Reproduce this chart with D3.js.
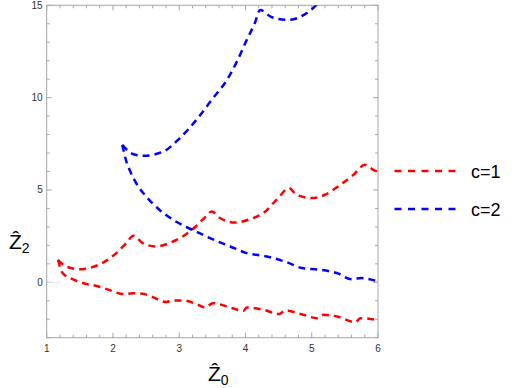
<!DOCTYPE html>
<html><head><meta charset="utf-8">
<script src="https://cdn.jsdelivr.net/npm/d3@7"></script>
<style>body{margin:0;background:#fff;} svg{display:block;}</style>
</head><body>
<script>
// Data (x = Z0, y = Z2)
const redUpper = [[1.17,1.22],[1.29,0.86],[1.49,0.71],[1.64,0.77],[1.85,1.07],[2.05,1.58],[2.20,2.12],[2.31,2.52],[2.45,2.12],[2.65,1.94],[2.85,2.12],[3.05,2.48],[3.25,3.02],[3.40,3.56],[3.49,3.83],[3.62,3.47],[3.84,3.24],[4.07,3.42],[4.27,3.75],[4.47,4.47],[4.66,5.10],[4.77,4.74],[5.00,4.56],[5.20,4.74],[5.43,5.28],[5.63,5.82],[5.80,6.36],[5.93,6.09],[6.00,5.98]];
const redLower = [[1.17,1.22],[1.24,0.50],[1.39,0.17],[1.54,-0.04],[1.74,-0.19],[1.94,-0.41],[2.16,-0.64],[2.30,-0.59],[2.45,-0.62],[2.60,-0.80],[2.80,-1.07],[2.90,-0.98],[3.05,-0.98],[3.25,-1.16],[3.39,-1.36],[3.51,-1.13],[3.72,-1.31],[3.97,-1.54],[4.02,-1.36],[4.27,-1.49],[4.51,-1.72],[4.60,-1.53],[4.87,-1.76],[5.08,-1.94],[5.17,-1.76],[5.38,-1.85],[5.66,-2.16],[5.73,-1.94],[5.97,-2.03],[6.00,-2.05]];
const blueUpper = [[2.14,7.44],[2.30,6.95],[2.46,6.85],[2.76,7.08],[3.01,7.81],[3.26,8.80],[3.51,9.97],[3.72,10.96],[3.87,11.95],[4.02,13.13],[4.14,14.03],[4.22,14.75],[4.40,14.35],[4.65,14.21],[4.92,14.57],[5.07,15.02],[5.20,15.6]];
const blueLower = [[2.14,7.44],[2.21,6.45],[2.25,6.09],[2.35,5.37],[2.50,4.65],[2.70,3.93],[2.95,3.29],[3.20,2.84],[3.50,2.34],[3.77,1.94],[4.02,1.58],[4.32,1.40],[4.62,1.09],[4.85,0.77],[5.12,0.68],[5.38,0.50],[5.60,0.17],[5.75,0.23],[5.95,0.10],[6.00,0.06]];
const xTicks = [1,2,3,4,5,6];
const yTicks = [0,5,10,15];
const legendLabels = ["c=1","c=2"];
const colors = ["#ff0000","#0000ff"];

const W = 515, H = 388;
const svg = d3.select("body").append("svg").attr("width",W).attr("height",H);
const x = d3.scaleLinear().domain([1,6]).range([46.7,378]);
const y = d3.scaleLinear().domain([-3,15]).range([337.7,5.3]);

svg.append("clipPath").attr("id","clip").append("rect")
  .attr("x",x(1)).attr("y",y(15)).attr("width",x(6)-x(1)).attr("height",y(-3)-y(15));

const frameCol = "#a6a6a6";
const labCol = "#333";
// ticks
const xMinor = d3.range(1,6.001,0.2);
const yMinor = d3.range(-3,15.001,1);
const tg = svg.append("g").attr("stroke",frameCol).attr("stroke-width",1);
xMinor.forEach(v=>{
  const major = Math.abs(v-Math.round(v))<1e-6;
  const L = major?5:3;
  tg.append("line").attr("x1",x(v)).attr("x2",x(v)).attr("y1",y(-3)).attr("y2",y(-3)-L);
  tg.append("line").attr("x1",x(v)).attr("x2",x(v)).attr("y1",y(15)).attr("y2",y(15)+L);
});
yMinor.forEach(v=>{
  const major = v%5===0;
  const L = major?5:3;
  tg.append("line").attr("x1",x(1)).attr("x2",x(1)+L).attr("y1",y(v)).attr("y2",y(v));
  tg.append("line").attr("x1",x(6)).attr("x2",x(6)-L).attr("y1",y(v)).attr("y2",y(v));
});
// light segment at y=0
svg.append("line").attr("x1",x(1)).attr("x2",x(1)+13).attr("y1",y(0)).attr("y2",y(0)).attr("stroke","#e6e6e6").attr("stroke-width",1);
// frame
svg.append("rect").attr("x",x(1)).attr("y",y(15)).attr("width",x(6)-x(1)).attr("height",y(-3)-y(15))
  .attr("fill","none").attr("stroke",frameCol).attr("stroke-width",1);

// tick labels
svg.append("g").selectAll("text").data(xTicks).join("text")
  .attr("x",d=>x(d)).attr("y",y(-3)+14).attr("text-anchor","middle")
  .attr("font-family","Liberation Sans, Arial, sans-serif").attr("font-size",10).attr("fill",labCol).text(d=>d);
svg.append("g").selectAll("text").data(yTicks).join("text")
  .attr("x",x(1)-4).attr("y",d=>y(d)+3.5).attr("text-anchor","end")
  .attr("font-family","Liberation Sans, Arial, sans-serif").attr("font-size",10).attr("fill",labCol).text(d=>d);

// curves
const line = d3.line().x(d=>x(d[0])).y(d=>y(d[1])).curve(d3.curveMonotoneX);
const cg = svg.append("g").attr("clip-path","url(#clip)").attr("fill","none").attr("stroke-width",2.5).attr("stroke-dasharray","7,5");
[[redUpper,0],[redLower,0],[blueUpper,1],[blueLower,1]].forEach(([d,c])=>{
  cg.append("path").attr("d",line(d)).attr("stroke",colors[c]);
});

// axis labels
const lab = (tx,ty,sub)=>{
  const t = svg.append("text").attr("x",tx).attr("y",ty).attr("font-family","Liberation Sans, Arial, sans-serif").attr("fill","#000");
  t.append("tspan").attr("font-size",21).text("Ẑ");
  t.append("tspan").attr("font-size",14).attr("dy",4).text(sub);
};
lab(9,249,"2");
lab(208,381,"0");

// legend
legendLabels.forEach((s,i)=>{
  const ly = 171 + i*38;
  svg.append("line").attr("x1",394.5).attr("x2",456).attr("y1",ly).attr("y2",ly)
    .attr("stroke",colors[i]).attr("stroke-width",2.5).attr("stroke-dasharray","7,6.5");
  svg.append("text").attr("x",471).attr("y",ly+6.5).attr("font-family","Liberation Sans, Arial, sans-serif")
    .attr("font-size",18).attr("fill","#000").text(s);
});
</script>
</body></html>
